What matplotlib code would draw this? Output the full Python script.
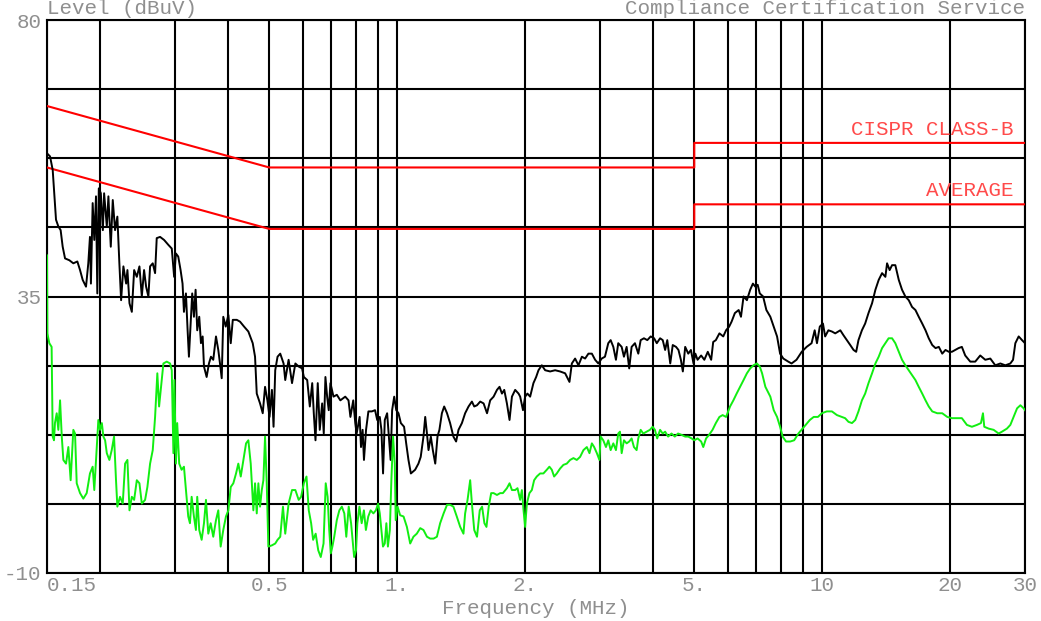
import matplotlib
matplotlib.use("Agg")
import matplotlib.pyplot as plt
from matplotlib.ticker import NullLocator

# peak detector trace (black)
peak_freq = [
    0.150, 0.1525, 0.1547, 0.1558, 0.1575, 0.1595, 0.1615, 0.1633, 0.1654, 0.1693,
    0.1730, 0.1768, 0.1794, 0.1820, 0.1853, 0.1876, 0.1893, 0.1903, 0.1921, 0.1938,
    0.1956, 0.1970, 0.1986, 0.2008, 0.2030, 0.2044, 0.2074, 0.2092, 0.2119, 0.2142,
    0.2169, 0.2196, 0.2220, 0.2241, 0.2269, 0.2303, 0.2319, 0.2345, 0.2375, 0.2405,
    0.2440, 0.2475, 0.2507, 0.2538, 0.2566, 0.2598, 0.2622, 0.2660, 0.2694, 0.2718,
    0.2768, 0.2829, 0.2895, 0.2949, 0.2987, 0.3016, 0.3054, 0.3093, 0.3126, 0.3150,
    0.3184, 0.3213, 0.3236, 0.3266, 0.3294, 0.3325, 0.3355, 0.3385, 0.3422, 0.3454,
    0.3486, 0.3511, 0.3562, 0.3607, 0.3646, 0.3692, 0.3747, 0.3794, 0.3829, 0.3865,
    0.3898, 0.3950, 0.4007, 0.4059, 0.4104, 0.4194, 0.4269, 0.4363, 0.4465, 0.4572,
    0.4630, 0.4673, 0.4757, 0.4827, 0.4888, 0.4950, 0.5008, 0.5073, 0.5118, 0.5165,
    0.5230, 0.5307, 0.5404, 0.5453, 0.5553, 0.5657, 0.5760, 0.5865, 0.5974, 0.6031,
    0.6142, 0.6229, 0.6311, 0.6365, 0.6424, 0.6503, 0.6574, 0.6660, 0.6718, 0.6779,
    0.6842, 0.6902, 0.6965, 0.7082, 0.7212, 0.7350, 0.7547, 0.7682, 0.7762, 0.7882,
    0.7969, 0.8028, 0.8159, 0.8220, 0.8292, 0.8353, 0.8448, 0.8556, 0.8717, 0.8870,
    0.8975, 0.9100, 0.9181, 0.9263, 0.935, 0.947, 0.9575, 0.965, 0.973, 0.984,
    0.995, 1.007, 1.020, 1.038, 1.050, 1.063, 1.077, 1.102, 1.122, 1.136,
    1.153, 1.164, 1.175, 1.185, 1.200, 1.213, 1.229, 1.244, 1.257, 1.274,
    1.290, 1.310, 1.332, 1.356, 1.376, 1.394, 1.420, 1.445, 1.472, 1.499,
    1.518, 1.541, 1.568, 1.597, 1.627, 1.655, 1.686, 1.717, 1.741, 1.764,
    1.786, 1.812, 1.838, 1.862, 1.895, 1.930, 1.947, 1.977, 2.000, 2.025,
    2.055, 2.092, 2.123, 2.150, 2.189, 2.229, 2.290, 2.353, 2.417, 2.484,
    2.543, 2.576, 2.622, 2.670, 2.720, 2.768, 2.818, 2.871, 2.922, 2.973,
    3.028, 3.082, 3.138, 3.179, 3.225, 3.271, 3.312, 3.374, 3.416, 3.466,
    3.515, 3.561, 3.626, 3.692, 3.740, 3.807, 3.877, 3.949, 4.022, 4.081,
    4.155, 4.215, 4.27, 4.32, 4.39, 4.45, 4.53, 4.59, 4.65, 4.70,
    4.76, 4.84, 4.91, 4.98, 5.03, 5.09, 5.19, 5.28, 5.38, 5.48,
    5.54, 5.62, 5.73, 5.85, 5.94, 6.04, 6.12, 6.23, 6.36, 6.44,
    6.53, 6.65, 6.77, 6.87, 6.96, 7.05, 7.13, 7.26, 7.39, 7.55,
    7.69, 7.83, 7.96, 8.10, 8.32, 8.47, 8.70, 8.95, 9.19, 9.44,
    9.60, 9.72, 9.87, 10.04, 10.16, 10.34, 10.54, 10.73, 11.03, 11.22,
    11.43, 11.64, 11.85, 12.02, 12.17, 12.40, 12.62, 12.85, 13.10, 13.34,
    13.58, 13.83, 14.08, 14.21, 14.41, 14.60, 14.86, 15.14, 15.41, 15.69,
    15.98, 16.27, 16.57, 16.87, 17.19, 17.50, 17.81, 18.15, 18.48, 18.81,
    19.16, 19.50, 19.86, 20.19, 20.55, 20.93, 21.31, 21.70, 22.30, 22.91,
    23.54, 24.19, 24.86, 25.54, 26.25, 26.97, 27.71, 28.12, 28.47, 28.99,
    29.52, 30.0,
]
peak_level = [
    58.3, 57.8, 55.6, 52.3, 47.5, 46.4, 45.8, 43.1, 41.2, 40.9,
    40.4, 40.7, 39.3, 37.7, 36.6, 40.4, 44.7, 37.1, 50.2, 44.2,
    51.3, 35.5, 52.6, 51.8, 45.8, 51.8, 46.4, 51.3, 43.1, 50.7,
    45.8, 48.0, 40.4, 34.4, 39.9, 37.1, 39.3, 33.9, 32.5, 39.3,
    38.2, 39.9, 35.0, 39.3, 36.6, 35.0, 39.9, 40.4, 38.8, 44.5,
    44.7, 44.2, 43.4, 42.8, 38.2, 42.0, 41.5, 39.3, 37.1, 32.5,
    35.5, 29.5, 25.2, 30.6, 35.5, 31.7, 36.1, 29.5, 31.7, 27.4,
    28.5, 23.6, 21.9, 24.1, 25.2, 24.7, 28.5, 26.3, 24.1, 21.7,
    31.7, 30.1, 32.0, 27.4, 31.2, 31.2, 30.9, 30.1, 29.3, 27.4,
    25.2, 19.2, 17.6, 16.0, 20.3, 18.1, 15.4, 19.8, 13.8, 23.0,
    25.2, 25.7, 24.1, 21.4, 24.7, 20.9, 24.1, 23.6, 23.3, 21.9,
    21.4, 17.1, 20.9, 16.0, 11.6, 20.9, 13.3, 17.6, 12.7, 21.9,
    18.7, 16.5, 20.9, 18.7, 19.0, 18.1, 18.7, 18.1, 15.4, 18.1,
    14.4, 12.7, 15.4, 10.5, 13.3, 8.4, 13.3, 16.3, 16.3, 16.5,
    14.9, 15.4, 13.3, 6.2, 14.9, 16.0, 11.6, 8.4, 16.5, 18.7,
    16.5, 16.0, 14.4, 13.8, 11.1, 8.4, 6.2, 6.8, 7.8, 8.9,
    12.2, 15.4, 12.7, 10.0, 12.2, 10.0, 7.8, 12.2, 13.3, 16.0,
    17.1, 16.0, 14.4, 12.2, 11.4, 13.3, 14.4, 16.0, 17.1, 17.9,
    17.1, 17.3, 17.9, 17.6, 16.0, 18.1, 18.7, 19.8, 20.3, 19.2,
    19.8, 17.6, 14.9, 18.7, 19.8, 19.2, 18.7, 16.5, 18.7, 19.2,
    18.7, 20.9, 21.9, 23.0, 23.8, 23.0, 22.8, 23.0, 22.8, 22.5,
    21.1, 24.1, 24.9, 23.8, 25.2, 24.9, 25.7, 25.7, 24.7, 24.1,
    24.9, 25.2, 27.4, 27.9, 26.8, 24.7, 27.4, 26.8, 25.2, 26.8,
    23.3, 26.8, 27.4, 25.7, 27.9, 28.2, 27.9, 28.5, 28.2, 27.4,
    28.2, 27.9, 26.3, 27.9, 24.1, 27.1, 26.8, 26.3, 24.7, 22.8,
    26.8, 25.7, 26.3, 24.1, 25.7, 24.7, 25.4, 24.7, 26.0, 24.7,
    27.6, 27.9, 29.0, 28.5, 29.5, 30.1, 30.9, 32.3, 32.8, 31.7,
    35.0, 34.4, 36.1, 37.1, 36.6, 36.9, 35.5, 35.0, 32.8, 31.7,
    30.1, 28.5, 25.7, 24.9, 24.4, 24.1, 24.7, 26.0, 26.8, 27.4,
    29.5, 27.4, 30.1, 30.6, 28.5, 29.5, 29.3, 29.0, 29.5, 28.7,
    27.9, 27.1, 26.3, 26.0, 27.9, 29.5, 30.6, 32.3, 33.9, 36.1,
    37.7, 38.8, 38.2, 40.4, 39.3, 40.1, 40.1, 37.7, 36.1, 35.0,
    34.4, 33.3, 32.8, 31.7, 30.6, 29.5, 28.2, 27.1, 26.6, 26.8,
    25.7, 26.3, 26.0, 26.0, 26.3, 26.6, 26.8, 25.4, 24.4, 24.4,
    25.4, 24.7, 24.9, 23.8, 24.1, 23.8, 24.1, 24.7, 27.4, 28.5,
    27.9, 27.4,
]

# average detector trace (green)
avg_freq = [
    0.1500, 0.1503, 0.1519, 0.1538, 0.1547, 0.1558, 0.1566, 0.1581, 0.1595, 0.1610,
    0.1625, 0.1639, 0.1663, 0.1684, 0.1705, 0.1730, 0.1746, 0.1762, 0.1794, 0.1826,
    0.1860, 0.1893, 0.1921, 0.1938, 0.1963, 0.1981, 0.2000, 0.2019, 0.2036, 0.2055,
    0.2074, 0.2103, 0.2130, 0.2157, 0.2180, 0.2196, 0.2228, 0.2261, 0.2290, 0.2319,
    0.2345, 0.2375, 0.2405, 0.2440, 0.2475, 0.2507, 0.2552, 0.2584, 0.2622, 0.2660,
    0.2694, 0.2727, 0.2753, 0.2778, 0.2818, 0.2870, 0.2922, 0.2949, 0.2975, 0.2991,
    0.3016, 0.3037, 0.3070, 0.3110, 0.3150, 0.3184, 0.3224, 0.3254, 0.3284, 0.3325,
    0.3361, 0.3385, 0.3422, 0.3467, 0.3511, 0.3549, 0.3594, 0.3641, 0.3692, 0.3747,
    0.3794, 0.3843, 0.3898, 0.3955, 0.4007, 0.4059, 0.4116, 0.4177, 0.4229, 0.4285,
    0.4346, 0.4410, 0.4465, 0.4523, 0.4588, 0.4630, 0.4673, 0.4714, 0.4757, 0.4802,
    0.4844, 0.4888, 0.4933, 0.4976, 0.5073, 0.5165, 0.5230, 0.5307, 0.5386, 0.5453,
    0.5553, 0.5657, 0.5760, 0.5865, 0.5941, 0.6031, 0.6118, 0.6194, 0.6274, 0.6342,
    0.643, 0.652, 0.661, 0.671, 0.679, 0.686, 0.692, 0.698, 0.704, 0.711,
    0.721, 0.731, 0.741, 0.751, 0.759, 0.769, 0.779, 0.787, 0.792, 0.800,
    0.806, 0.815, 0.825, 0.835, 0.844, 0.855, 0.866, 0.879, 0.891, 0.902,
    0.910, 0.918, 0.926, 0.935, 0.943, 0.951, 0.961, 0.969, 0.978, 0.987,
    0.992, 1.002, 1.016, 1.035, 1.054, 1.073, 1.092, 1.112, 1.133, 1.153,
    1.175, 1.196, 1.218, 1.240, 1.262, 1.286, 1.310, 1.332, 1.356, 1.381,
    1.407, 1.432, 1.445, 1.464, 1.485, 1.499, 1.518, 1.541, 1.564, 1.584,
    1.604, 1.622, 1.642, 1.664, 1.686, 1.717, 1.747, 1.773, 1.812, 1.838,
    1.862, 1.895, 1.919, 1.940, 1.947, 1.965, 1.983, 2.000, 2.019, 2.047,
    2.074, 2.100, 2.130, 2.169, 2.208, 2.249, 2.281, 2.311, 2.340, 2.374,
    2.417, 2.461, 2.506, 2.552, 2.598, 2.646, 2.694, 2.743, 2.794, 2.834,
    2.871, 2.907, 2.950, 2.991, 3.011, 3.054, 3.099, 3.138, 3.179, 3.225,
    3.271, 3.312, 3.343, 3.374, 3.416, 3.466, 3.515, 3.561, 3.606, 3.659,
    3.692, 3.740, 3.793, 3.864, 3.933, 3.99, 4.04, 4.09, 4.155, 4.215,
    4.27, 4.34, 4.42, 4.50, 4.58, 4.66, 4.76, 4.84, 4.93, 5.00,
    5.09, 5.19, 5.25, 5.33, 5.42, 5.52, 5.62, 5.73, 5.83, 5.94,
    6.07, 6.18, 6.29, 6.41, 6.53, 6.65, 6.77, 6.89, 7.02, 7.13,
    7.22, 7.35, 7.55, 7.69, 7.83, 7.96, 8.07, 8.22, 8.41, 8.59,
    8.79, 8.94, 9.15, 9.35, 9.55, 9.77, 9.98, 10.25, 10.54, 10.83,
    11.12, 11.32, 11.53, 11.75, 11.96, 12.17, 12.40, 12.62, 12.85, 13.10,
    13.34, 13.58, 13.83, 14.08, 14.33, 14.60, 14.86, 15.14, 15.41, 15.69,
    15.98, 16.27, 16.57, 16.87, 17.19, 17.50, 17.81, 18.15, 18.65, 19.16,
    19.69, 20.19, 20.75, 21.31, 21.90, 22.50, 23.12, 23.63, 23.89, 24.06,
    24.63, 25.31, 26.01, 26.48, 27.20, 27.71, 28.21, 28.74, 29.26, 29.79,
    30.0,
]
avg_level = [
    41.7, 29.0, 27.4, 26.8, 12.2, 11.6, 14.4, 16.0, 13.3, 18.1,
    12.2, 8.4, 7.8, 10.5, 5.1, 13.3, 12.7, 4.6, 3.0, 2.1,
    3.0, 6.2, 7.3, 3.5, 10.0, 14.9, 13.3, 14.4, 12.2, 11.6,
    9.5, 8.4, 10.0, 12.2, 5.1, 0.8, 2.4, 1.3, 7.8, 8.4,
    0.2, 2.4, 1.9, 5.1, 4.6, 1.3, 1.9, 4.0, 7.8, 10.0,
    15.4, 22.5, 17.1, 19.8, 24.1, 24.4, 24.1, 23.0, 9.5, 21.4,
    7.8, 14.4, 7.8, 6.8, 7.3, 3.5, -0.8, -1.9, 2.4, -0.8,
    -3.0, 2.4, -3.0, -4.6, -1.9, 1.9, -3.6, -1.9, -4.1, -1.4,
    0.2, -5.7, -3.0, -0.8, 0.2, 4.0, 4.6, 6.2, 7.8, 5.7,
    8.4, 11.1, 11.6, 7.8, 0.2, 4.6, -0.3, 4.6, 0.8, 3.5,
    5.1, 12.2, 4.6, -5.7, -5.5, -5.2, -4.6, -4.1, 0.8, -3.6,
    1.3, 3.5, 3.5, 1.9, 2.4, 4.6, 5.7, 0.2, -1.9, -4.6,
    -3.6, -6.3, -7.4, -5.2, 4.6, 2.4, -3.0, -6.8, -5.7, -4.1,
    -1.4, 0.2, 0.8, -0.3, -4.1, 0.8, -1.9, -5.2, -7.4, -6.3,
    -1.9, 0.8, -1.9, 0.2, -3.0, -0.8, 0.2, -0.3, 0.2, 1.3,
    -0.3, -3.0, -5.7, -5.2, -1.9, -5.7, -3.0, 5.1, 12.2, 7.8,
    -1.4, 0.8, -0.6, -0.8, -2.5, -5.2, -4.1, -3.6, -2.7, -3.0,
    -4.1, -4.4, -4.4, -4.1, -1.9, -0.3, 1.1, 1.1, 0.8, -0.8,
    -2.5, -3.6, -0.3, 1.9, 5.1, 1.3, -3.0, -4.1, 0.2, 0.8,
    -1.9, -2.5, 0.8, 3.0, 3.0, 2.7, 3.0, 3.0, 3.8, 4.6,
    3.5, 3.5, 3.8, 2.4, 1.9, 3.5, 0.2, -2.5, 1.3, 3.0,
    3.5, 5.1, 5.7, 6.2, 6.2, 6.8, 7.3, 6.8, 5.7, 6.2,
    7.0, 7.6, 7.8, 8.4, 8.7, 8.4, 8.9, 10.0, 10.5, 9.5,
    11.1, 10.5, 9.5, 8.4, 12.2, 11.6, 10.5, 11.6, 10.0, 11.1,
    10.0, 12.7, 13.0, 9.5, 11.6, 11.1, 11.4, 11.9, 10.5, 10.0,
    11.9, 13.3, 12.7, 13.0, 13.3, 13.8, 13.3, 11.9, 13.3, 12.7,
    13.0, 12.2, 12.7, 12.2, 12.7, 12.5, 12.2, 12.2, 11.9, 11.6,
    11.9, 11.4, 10.5, 11.9, 12.5, 13.3, 14.4, 15.4, 15.7, 15.4,
    17.1, 18.1, 19.2, 20.3, 21.4, 22.5, 23.3, 23.8, 24.1, 23.6,
    22.5, 20.3, 18.7, 16.5, 15.4, 13.8, 12.2, 11.4, 11.4, 11.6,
    12.7, 13.3, 14.1, 14.9, 15.4, 15.4, 16.0, 16.3, 16.3, 15.7,
    15.4, 15.2, 14.6, 14.4, 14.9, 16.3, 18.1, 19.2, 20.9, 22.5,
    24.1, 25.2, 26.6, 27.4, 28.2, 28.2, 27.4, 26.0, 24.7, 23.8,
    23.0, 22.2, 21.4, 20.3, 19.2, 18.1, 17.1, 16.3, 16.0, 16.0,
    15.4, 15.2, 15.2, 15.2, 14.1, 13.8, 14.1, 14.4, 16.0, 13.8,
    13.5, 13.3, 12.7, 13.0, 13.5, 14.1, 15.4, 16.8, 17.3, 16.8,
    16.5,
]

# CISPR 22 class B limits (dBuV)
limit_freq = [0.15, 0.5, 5.0, 5.0, 30.0]
qp_limit = [66, 56, 56, 60, 60]
avg_limit = [56, 46, 46, 50, 50]

# grid layout
freq_grid = [0.15, 0.2, 0.3, 0.4, 0.5, 0.6, 0.7, 0.8, 0.9, 1, 2, 3, 4, 5, 6, 7, 8, 9, 10, 20, 30]
freq_labels = {0.15: "0.15", 0.5: "0.5", 1: "1.", 2: "2.", 5: "5.", 10: "10", 20: "20", 30: "30"}
level_grid = [-10, 1.25, 12.5, 23.75, 35, 46.25, 57.5, 68.75, 80]
level_labels = {-10: "-10", 35: "35", 80: "80"}

FONT = "Liberation Mono"
GRAY = "#8f8f8f"
FS = 15

fig = plt.figure(figsize=(10.41, 6.21), dpi=100)
ax = fig.add_axes([47 / 1041, 1 - 573 / 621, 978 / 1041, 553 / 621])

ax.set_xscale("log")
ax.set_xlim(0.15, 30)
ax.set_ylim(-10, 80)
ax.xaxis.set_minor_locator(NullLocator())

ax.set_xticks(freq_grid, labels=[freq_labels.get(f, "") for f in freq_grid])
ax.set_yticks(level_grid, labels=[level_labels.get(v, "") for v in level_grid])
ax.tick_params(length=0, labelsize=FS, labelcolor=GRAY)
ax.tick_params(axis="x", pad=2)
ax.tick_params(axis="y", pad=4)
for lab in ax.get_xticklabels() + ax.get_yticklabels():
    lab.set_fontfamily(FONT)
ax.get_xticklabels()[0].set_horizontalalignment("left")

ax.grid(True, color="black", linewidth=1.5)
ax.set_axisbelow(True)
for s in ax.spines.values():
    s.set_linewidth(1.5)
    s.set_color("black")

ax.plot(limit_freq, qp_limit, color="#ff0000", linewidth=1.5, zorder=3)
ax.plot(limit_freq, avg_limit, color="#ff0000", linewidth=1.5, zorder=3)
ax.plot(peak_freq, peak_level, color="black", linewidth=1.4, zorder=4)
ax.plot(avg_freq, avg_level, color="#11ee11", linewidth=1.4, zorder=4)

ax.text(28.2, 60.7, "CISPR CLASS-B", color="#ff4a4a", fontsize=FS, family=FONT,
        ha="right", va="bottom")
ax.text(28.2, 50.7, "AVERAGE", color="#ff4a4a", fontsize=FS, family=FONT,
        ha="right", va="bottom")

fig.text(47 / 1041, 1 - 9 / 621, "Level (dBuV)", color=GRAY, fontsize=FS,
         family=FONT, ha="left", va="center")
fig.text(1025 / 1041, 1 - 9 / 621, "Compliance Certification Service", color=GRAY,
         fontsize=FS, family=FONT, ha="right", va="center")
fig.text(536 / 1041, 1 - 609 / 621, "Frequency (MHz)", color=GRAY, fontsize=FS,
         family=FONT, ha="center", va="center")

fig.savefig("out.png", dpi=100)
